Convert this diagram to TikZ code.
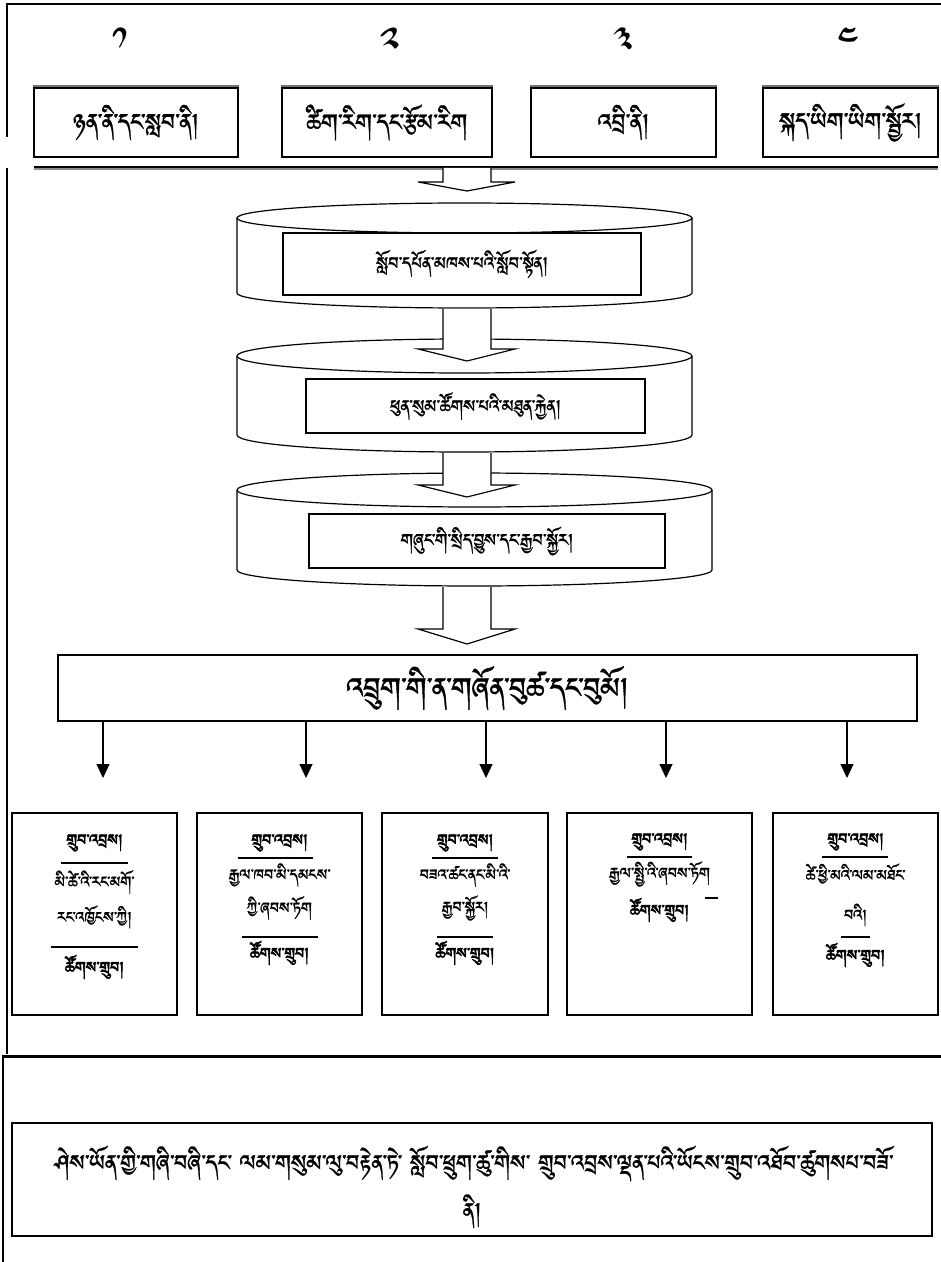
\documentclass[tikz,border=0pt]{standalone}
\usepackage{fontspec}
\usetikzlibrary{arrows.meta}
\newcommand\tibsetup[1]{\newfontfamily\tib[Script=Tibetan,FakeBold=1]{#1}\newfontfamily\tibb[Script=Tibetan,FakeBold=3]{#1}\newfontfamily\tibn[Script=Tibetan]{#1}}
\IfFontExistsTF{Jomolhari}{\tibsetup{Jomolhari}}{%
 \IfFontExistsTF{Tibetan Machine Uni}{\tibsetup{Tibetan Machine Uni}}{%
  \IfFontExistsTF{Noto Serif Tibetan}{\tibsetup{Noto Serif Tibetan}}{%
   \IfFontExistsTF{Noto Sans Tibetan}{\tibsetup{Noto Sans Tibetan}}{\tibsetup{DejaVu Sans}}}}}
\def\px{0.75pt}
\begin{document}
\begin{tikzpicture}[x=0.75pt,y=-0.75pt,
  lw/.style={line width=0.9pt},
  tbox/.style={draw,lw,fill=white,inner sep=0pt,font=\tib\fontsize{22}{24}\selectfont},
  cbox/.style={draw,lw,fill=white,inner sep=0pt,font=\tib\fontsize{16.5}{18}\selectfont},
  digit/.style={inner sep=0pt,font=\tibn\fontsize{29}{32}\selectfont},
  rbox/.style={draw,lw,inner sep=0pt,minimum height=202*\px},
  small/.style={inner sep=0pt,font=\tib\fontsize{14.5}{16}\selectfont},
  title/.style={inner sep=0pt,font=\tibb\fontsize{14.5}{16}\selectfont},
  goalline/.style={inner sep=0pt,anchor=base,font=\tib\fontsize{21}{24}\selectfont},
  rule/.style={line width=0.8pt},
  blockarr/.style={lw,fill=white},
  darr/.style={line width=0.8pt,-{Triangle[length=14*\px,width=13*\px]}}]
\useasboundingbox (0,0) rectangle (941,1262);
% frame
\draw[line width=1.5pt] (7,137) -- (7,4) -- (941,4);
\draw[line width=1.5pt] (7,168) -- (7,1054);
\draw[line width=2.25pt] (2,1056) -- (941,1056);
\draw[line width=1.5pt] (3,1056) -- (3,1262);
% digits
\node[digit] (d1) at (120,42) {༡};
\node[digit] (d2) at (390,42) {༢};
\node[digit] (d3) at (623,42) {༣};
\node[digit] (d4) at (848,42) {༤};
% top boxes
\node[tbox,minimum width=204*\px,minimum height=69*\px] (n1) at (136,122.5) {ཉན་ནི་དང་སླབ་ནི།};
\node[tbox,minimum width=210*\px,minimum height=69*\px] (n2) at (387,122.5) {ཚིག་རིག་དང་རྩོམ་རིག};
\node[tbox,minimum width=185*\px,minimum height=69*\px] (n3) at (623.5,122.5) {འབྲི་ནི།};
\node[tbox,minimum width=175*\px,minimum height=69*\px] (n4) at (850.5,122.5) {སྐད་ཡིག་ཡིག་སྦྱོར།};
\foreach \n in {n1,n2,n3,n4}{
  \draw[line width=1.1pt,black!55] ([yshift=1.1pt]\n.north west) -- ([yshift=1.1pt]\n.north east);}
% separator line
\draw[line width=1.2pt] (34,167) -- (938,167);
\draw[line width=0.8pt,black!45] (34,169) -- (938,169);
% cylinder 1
\draw[lw] (237,218) -- (237,293) .. controls (237,301.3) and (338.9,308) .. (464.5,308)
  .. controls (590.1,308) and (692,301.3) .. (692,293) -- (692,218);
\draw[lw] (464.5,218) ellipse [x radius=227.5, y radius=15];
\node[cbox,minimum width=358*\px,minimum height=62*\px] (c1) at (462,264) {སློབ་དཔོན་མཁས་པའི་སློབ་སྟོན།};
% cylinder 2
\draw[lw] (237,356) -- (237,435) .. controls (237,444.4) and (338.9,452) .. (464.5,452)
  .. controls (590.1,452) and (692,444.4) .. (692,435) -- (692,356);
\draw[lw] (464.5,356) ellipse [x radius=227.5, y radius=17];
\node[cbox,minimum width=339*\px,minimum height=54*\px] (c2) at (475.5,406) {ཕུན་སུམ་ཚོགས་པའི་མཐུན་རྐྱེན།};
% cylinder 3
\draw[lw] (237,490) -- (237,570) .. controls (237,578.8) and (343.3,586) .. (474.5,586)
  .. controls (605.7,586) and (712,578.8) .. (712,570) -- (712,490);
\draw[lw] (474.5,490) ellipse [x radius=237.5, y radius=17];
\node[cbox,minimum width=356*\px,minimum height=54*\px] (c3) at (487,541) {གཞུང་གི་སྲིད་བྱུས་དང་རྒྱབ་སྐྱོར།};
% block arrows
\filldraw[blockarr] (443,168) -- (443,182) -- (418,182) -- (467,191) -- (515,182) -- (491,182) -- (491,168);
\filldraw[blockarr] (443,309) -- (443,349) -- (418,349) -- (467,361) -- (515,349) -- (491,349) -- (491,309);
\filldraw[blockarr] (443,453) -- (443,485) -- (418,485) -- (467,497) -- (515,485) -- (491,485) -- (491,453);
\filldraw[blockarr] (443,587) -- (443,629) -- (418,629) -- (467,644) -- (515,629) -- (491,629) -- (491,587);
% big box
\node[draw,lw,fill=white,inner sep=0pt,minimum width=859*\px,minimum height=66*\px,
  font=\tib\fontsize{27}{30}\selectfont] (youth) at (487.5,688) {འབྲུག་གི་ན་གཞོན་བུཚ་དང་བུམོ།};
\foreach \i/\x in {1/103,2/306,3/486,4/666,5/847}{
  \coordinate (e\i) at (\x,778);
  \draw[darr] (youth.south -| e\i) -- (e\i);}
% result boxes
\node[rbox,minimum width=165*\px] (r1) at (94.5,914) {};
\node[rbox,minimum width=165*\px] (r2) at (279.5,914) {};
\node[rbox,minimum width=166*\px] (r3) at (465,914) {};
\node[rbox,minimum width=185*\px] (r4) at (659.5,914) {};
\node[rbox,minimum width=165*\px] (r5) at (855.5,914) {};
% box 1
\node[title] (r1a) at (94.5,843) {གྲུབ་འབྲས།};
\draw[rule] (61,863) -- (128,863);
\node[small] (r1b) at (94.5,882) {མི་ཚེ་འི་རང་མགོ་};
\node[small] (r1c) at (94.5,917) {རང་འཁྱོངས་ཀྱི།};
\draw[rule] (51,947) -- (138,947);
\node[title] (r1d) at (94.5,967) {ཚོགས་གྲུབ།};
% box 2
\node[title] (r2a) at (279.5,843) {གྲུབ་འབྲས།};
\draw[rule] (238,858) -- (313,858);
\node[small] (r2b) at (279.5,875) {རྒྱལ་ཁབ་མི་དམངས་};
\node[small] (r2c) at (279.5,908) {ཀྱི་ཞབས་ཏོག};
\draw[rule] (242,937) -- (318,937);
\node[title] (r2d) at (279.5,953) {ཚོགས་གྲུབ།};
% box 3
\node[title] (r3a) at (465,843) {གྲུབ་འབྲས།};
\draw[rule] (432,858) -- (498,858);
\node[small] (r3b) at (465,875) {བཟའ་ཚང་ནང་མི་འི་};
\node[small] (r3c) at (465,908) {རྒྱབ་སྐྱོར།};
\draw[rule] (437,937) -- (493,937);
\node[title] (r3d) at (465,953) {ཚོགས་གྲུབ།};
% box 4
\node[title] (r4a) at (659.5,842) {གྲུབ་འབྲས།};
\draw[rule] (627,857) -- (692,857);
\node[small] (r4b) at (659.5,874) {རྒྱལ་སྤྱི་འི་ཞབས་ཏོག};
\draw[rule] (705,898) -- (718,898);
\node[title] (r4d) at (659.5,910) {ཚོགས་གྲུབ།};
% box 5
\node[title] (r5a) at (855.5,842) {གྲུབ་འབྲས།};
\draw[rule] (822,857) -- (888,857);
\node[small] (r5b) at (855.5,874) {ཚེ་ཕྱི་མའི་ལམ་མཐོང་};
\node[small] (r5c) at (855.5,915) {བའི།};
\draw[rule] (841,937) -- (870,937);
\node[title] (r5d) at (855.5,955) {ཚོགས་གྲུབ།};
% goal box
\node[draw,lw,inner sep=0pt,minimum width=920*\px,minimum height=113*\px] (goal) at (472,1179.5) {};
\node[goalline] (goal1) at (474,1176)
  {ཤེས་ཡོན་གྱི་གཞི་བཞི་དང་ ལམ་གསུམ་ལུ་བརྟེན་ཏེ་ སློབ་ཕྲུག་ཚུ་གིས་ གྲུབ་འབྲས་ལྡན་པའི་ཡོངས་གྲུབ་འཐོབ་ཚུགསཔ་བཟོ་};
\node[goalline] (goal2) at (472,1224) {ནི།};
\end{tikzpicture}
\end{document}
